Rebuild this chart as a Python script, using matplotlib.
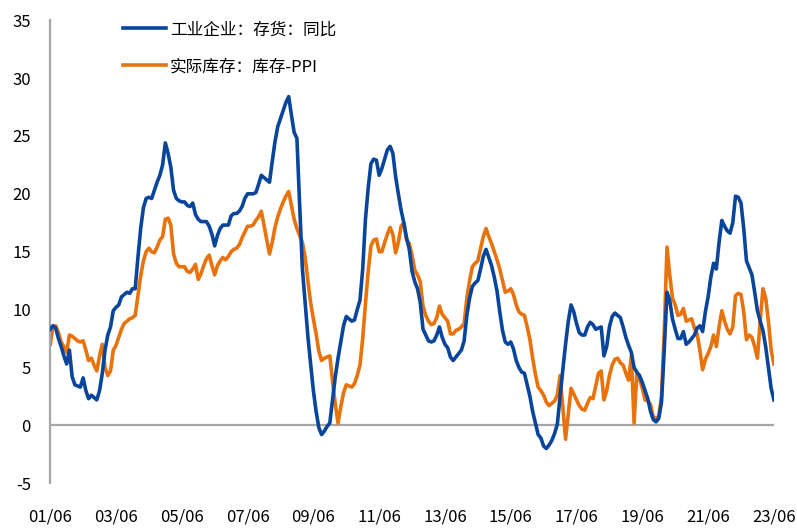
import matplotlib
matplotlib.use("Agg")
import matplotlib.pyplot as plt

plt.rcParams['font.family'] = ['Noto Sans CJK SC', 'DejaVu Sans']
plt.rcParams['axes.unicode_minus'] = False

# monthly data, 2001-06 .. 2023-06
inventory_yoy = [
    8.3, 8.6, 8.4, 7.5, 6.8, 6.0, 5.3, 6.5, 4.2, 3.5, 3.4, 3.3,
    4.1, 3.0, 2.3, 2.6, 2.4, 2.2, 3.0, 4.5, 6.5, 7.8, 8.5, 9.9,
    10.2, 10.4, 11.1, 11.3, 11.5, 11.4, 11.8, 11.8, 14.5, 17.0, 18.8, 19.6,
    19.7, 19.6, 20.3, 21.0, 21.6, 22.5, 24.4, 23.5, 22.3, 20.3, 19.6, 19.4,
    19.3, 19.3, 19.0, 18.9, 19.2, 18.2, 17.8, 17.6, 17.6, 17.6, 17.2, 16.5,
    15.5, 16.4, 17.0, 17.3, 17.3, 17.3, 18.1, 18.3, 18.3, 18.5, 18.9, 19.6,
    20.0, 20.0, 20.0, 20.1, 20.8, 21.6, 21.4, 21.2, 21.0, 22.8, 24.5, 25.8,
    26.5, 27.2, 27.9, 28.4, 26.8, 25.3, 24.8, 19.0, 13.5, 10.6, 7.7, 5.3,
    3.0, 1.2, -0.2, -0.8, -0.5, -0.1, 0.2, 2.2, 4.2, 5.8, 7.2, 8.6,
    9.4, 9.2, 9.0, 9.1, 10.0, 10.8, 13.5, 17.8, 20.5, 22.6, 23.0, 22.9,
    21.6, 22.2, 23.0, 23.8, 24.1, 23.5, 21.5, 20.0, 18.6, 17.5, 16.2, 15.2,
    13.3, 12.4, 11.8, 10.6, 8.3, 7.8, 7.3, 7.2, 7.3, 7.8, 8.5, 7.6,
    7.0, 6.7, 5.9, 5.6, 5.9, 6.2, 6.5, 7.3, 9.5, 11.0, 12.0, 12.3,
    12.5, 13.5, 14.6, 15.2, 14.5, 13.8, 12.8, 11.6, 9.8, 8.2, 7.2, 7.0,
    7.2, 6.6, 5.6, 5.0, 4.6, 4.5, 3.5, 2.5, 1.2, 0.2, -0.8, -1.1,
    -1.8, -2.0, -1.7, -1.3, -0.7, 0.1, 2.5, 4.8, 7.0, 9.0, 10.4, 9.8,
    8.8, 8.0, 7.8, 7.8, 8.5, 8.9, 8.7, 8.3, 8.4, 8.5, 6.0, 6.8,
    8.5, 9.4, 9.7, 9.5, 9.3, 8.5, 7.6, 6.9, 6.3, 5.0, 4.6, 4.3,
    3.7, 3.0, 2.3, 1.2, 0.5, 0.3, 0.6, 2.0, 6.5, 11.5, 10.8, 9.2,
    8.3, 7.5, 7.5, 8.1, 7.0, 7.2, 7.5, 7.8, 8.4, 8.6, 8.1, 9.8,
    11.1, 12.8, 14.0, 13.5, 15.8, 17.7, 17.2, 16.8, 16.6, 17.5, 19.8, 19.7,
    19.2, 17.0, 14.2, 13.6, 13.0, 11.5, 9.9, 9.0, 8.2, 6.8, 5.0, 3.2,
    2.2,
]

real_inventory = [
    7.0, 8.5, 8.6, 8.0, 7.2, 6.8, 6.3, 7.8, 7.7, 7.5, 7.3, 7.2,
    7.3, 6.5, 5.6, 5.8, 5.2, 4.7, 6.0, 7.0, 5.0, 4.3, 4.7, 6.5,
    6.9, 7.6, 8.3, 8.8, 9.0, 9.2, 9.3, 9.5, 11.2, 12.9, 14.2, 15.0,
    15.3, 15.0, 14.9, 15.4, 16.0, 16.3, 17.8, 17.9, 17.3, 14.8, 14.0, 13.7,
    13.7, 13.7, 13.3, 13.2, 13.5, 13.9, 12.6, 13.1, 13.8, 14.4, 14.7, 13.8,
    13.0, 13.8, 14.2, 14.5, 14.3, 14.6, 15.0, 15.2, 15.3, 15.6, 16.2, 16.7,
    17.2, 17.2, 17.3, 17.7, 18.0, 18.5, 17.3, 16.0, 14.8, 15.8, 17.1, 18.0,
    18.7, 19.3, 19.8, 20.2, 19.0, 17.8, 17.0, 16.4, 15.8, 14.5, 12.5, 10.6,
    9.2, 7.9, 6.4, 5.6, 5.8, 5.9, 6.0, 3.8, 1.8, 0.2, 1.6, 2.8,
    3.5, 3.4, 3.3, 3.6, 4.3, 5.2, 7.5, 10.5, 13.3, 15.5, 16.0, 16.1,
    15.0, 15.0, 15.8, 16.5, 17.1, 16.5, 14.9, 15.8, 17.2, 17.5, 16.0, 15.7,
    14.7, 13.4, 13.0, 12.4, 10.3, 9.5, 9.0, 8.7, 8.8, 9.3, 10.3, 9.6,
    9.3, 9.0, 7.9, 7.9, 8.2, 8.3, 8.5, 8.8, 11.0, 12.5, 13.7, 14.0,
    14.2, 15.3, 16.3, 17.0, 16.3, 15.7, 15.0, 14.3, 13.5, 12.5, 11.5, 11.6,
    11.8, 11.3, 10.4, 9.8, 9.6, 9.5, 8.5, 7.4, 5.8, 4.4, 3.3, 3.0,
    2.6, 2.0, 1.7, 1.9, 2.1, 2.6, 4.3, 1.5, -1.2, 1.0, 3.2, 2.7,
    2.2, 1.7, 1.4, 1.3, 1.9, 2.4, 2.3, 3.4, 4.5, 4.7, 2.2, 3.0,
    4.3, 5.2, 5.7, 5.8, 5.4, 5.2, 4.5, 3.9, 6.0, 0.2, 4.5, 4.0,
    3.2, 2.2, 2.1, 1.8, 0.7, 0.6, 0.8, 2.5, 8.0, 15.4, 13.0, 11.0,
    10.4, 9.5, 9.6, 10.1, 9.0, 9.1, 9.2, 8.4, 7.9, 6.5, 4.8, 5.7,
    6.2, 6.8, 7.8, 6.8, 8.5, 9.9, 9.0, 8.3, 7.9, 8.5, 11.2, 11.4,
    11.3, 9.8, 7.4, 7.8, 7.6, 6.8, 5.8, 9.0, 11.8, 11.0, 9.0, 6.5,
    5.3,
]

tick_labels = ["01/06", "03/06", "05/06", "07/06", "09/06", "11/06",
               "13/06", "15/06", "17/06", "19/06", "21/06", "23/06"]
y_ticks = [-5, 0, 5, 10, 15, 20, 25, 30, 35]

months = list(range(len(inventory_yoy)))

fig = plt.figure(figsize=(7.97, 5.31), dpi=100)
ax = fig.add_axes([0.063, 0.09, 0.908, 0.872])

ax.plot(months, inventory_yoy, color="#0A459C", lw=2.6,
        label="工业企业：存货：同比", zorder=3)
ax.plot(months, real_inventory, color="#E8720C", lw=2.6,
        label="实际库存：库存-PPI", zorder=2)

ax.axhline(0, color="#A6A6A6", lw=1.6, zorder=1)

ax.set_xlim(0, len(months) - 1)
ax.set_ylim(-5, 35)
ax.set_yticks(y_ticks)
ax.set_xticks(months[::24])
ax.set_xticklabels(tick_labels)

for s in ["top", "right", "bottom"]:
    ax.spines[s].set_visible(False)
ax.spines["left"].set_color("#A6A6A6")
ax.spines["left"].set_linewidth(1.6)

ax.tick_params(axis="both", length=0, labelsize=12, colors="#000000")
ax.tick_params(axis="x", pad=18)
ax.tick_params(axis="y", pad=14)

ax.legend(loc="upper left", bbox_to_anchor=(0.08, 1.03), frameon=False,
          fontsize=12, handlelength=2.6, handletextpad=0.2,
          labelspacing=1.2)

fig.savefig("out.png", dpi=100)
